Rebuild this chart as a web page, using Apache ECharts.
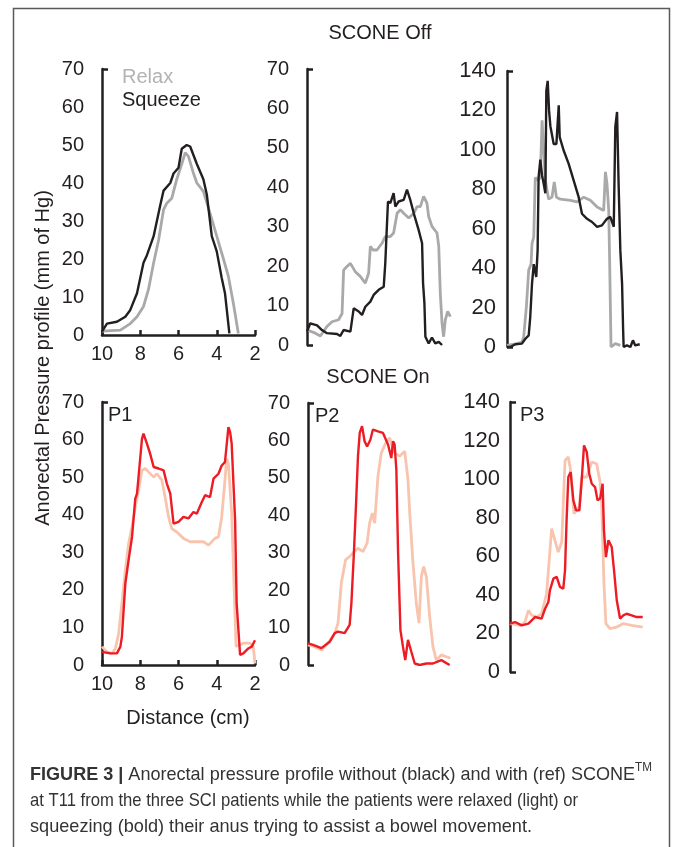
<!DOCTYPE html>
<html><head><meta charset="utf-8">
<script src="https://cdn.jsdelivr.net/npm/echarts@6/dist/echarts.min.js"></script>
<style>html,body{margin:0;padding:0;background:#fff;}#c{width:673px;height:847px;}</style>
</head><body><div id="c"></div>
<script>
// ---------- DATA (distance in cm, pressure in mm Hg) ----------
const xTickValues = [10, 8, 6, 4, 2];

// SCONE Off, patient 1
const offP1Relax = [[10,1],[9.04,1.3],[8.52,3],[8.17,4.8],[7.83,7.5],[7.57,12],[7.30,19],[7.04,25],[6.78,33],[6.61,34.7],[6.35,36],[6.09,41],[5.83,45],[5.65,48],[5.48,47],[5.22,42.6],[5.04,40],[4.70,37.8],[4.35,32],[4.0,26],[3.65,20],[3.39,15.4],[3.13,8.3],[2.87,0.4]];
const offP1Squeeze = [[10,0.9],[9.74,3],[9.22,3.5],[8.78,4.8],[8.52,6.6],[8.17,11],[7.83,19],[7.65,21],[7.30,26],[6.96,34],[6.78,38],[6.43,40],[6.26,42.5],[6.0,44],[5.83,49],[5.57,50],[5.39,49.6],[5.04,45],[4.70,41],[4.52,37],[4.26,26],[4.0,22],[3.74,15],[3.57,11],[3.34,0.4]];
// SCONE Off, patient 2
const offP2Relax = [[10,3.8],[9.57,3],[9.31,2.3],[8.97,4.7],[8.71,5.9],[8.37,6.4],[8.19,8],[8.11,19],[7.94,19.9],[7.76,20.7],[7.51,18.6],[7.25,17.4],[6.99,15.7],[6.82,18.2],[6.73,25],[6.59,24.1],[6.39,24.1],[6.13,25.8],[5.96,27.5],[5.70,27.5],[5.53,28.4],[5.35,33.4],[5.18,34.3],[5.01,33.4],[4.75,32.2],[4.49,33.4],[4.32,35.1],[4.15,35.1],[3.98,37.7],[3.81,36],[3.72,32.6],[3.55,30.1],[3.29,28.4],[3.20,25],[3.12,13.1],[3.03,5.5],[2.95,2.1],[2.86,6.4],[2.74,8.5],[2.60,7.2]];
const offP2Squeeze = [[10,3.4],[9.83,5.5],[9.48,5],[9.23,3.8],[8.97,3],[8.45,2.8],[8.28,2.3],[8.11,3.8],[7.76,3.4],[7.59,9.3],[7.33,8.5],[7.16,7.6],[6.99,9.7],[6.73,11],[6.56,12.7],[6.30,14],[6.04,14.8],[5.96,20.7],[5.87,30.9],[5.82,36.4],[5.70,36],[5.53,38.5],[5.44,35.1],[5.27,36.4],[5.01,36.8],[4.84,39.4],[4.67,36.8],[4.49,33.4],[4.24,29.2],[4.06,25.8],[4.01,15.7],[3.94,10.6],[3.89,2.1],[3.72,0.4],[3.55,1.9],[3.38,0.4],[3.20,0.8],[3.03,0]];
// SCONE Off, patient 3
const offP3Relax = [[10,0.8],[9.48,1.7],[9.23,2.5],[9.14,5],[9.0,20.3],[8.88,39],[8.76,42],[8.71,52.4],[8.62,55.8],[8.54,86],[8.42,84.5],[8.28,86],[8.19,115],[8.11,115.8],[8.02,84.5],[7.85,75],[7.68,76],[7.56,83.7],[7.45,76],[7.25,75],[6.73,74.4],[6.39,73.6],[6.04,76],[5.70,74.4],[5.35,71],[5.01,69.3],[4.92,88.8],[4.84,82.9],[4.75,69.3],[4.70,42.3],[4.63,0],[4.41,1.7],[4.15,0.8]];
const offP3Squeeze = [[10,0],[9.83,0],[9.57,1.4],[9.23,1.7],[9.05,4.2],[8.88,5.9],[8.80,15.2],[8.71,32],[8.62,42],[8.49,35.5],[8.42,49],[8.37,86],[8.28,95],[8.19,87],[8.11,83],[8.02,78],[7.97,130],[7.90,135],[7.83,120],[7.76,112],[7.59,103],[7.45,103],[7.33,122.6],[7.28,106.5],[7.08,99.8],[6.82,93],[6.56,84.5],[6.30,76],[6.13,67.6],[5.87,65],[5.61,63.4],[5.35,60.9],[5.10,61.7],[4.84,65],[4.67,66],[4.49,61],[4.41,111.6],[4.32,119.2],[4.24,82.9],[4.15,49],[4.06,32],[4.01,10],[3.98,0],[3.81,0.8],[3.63,0],[3.50,3.4],[3.38,0.8],[3.15,1.4]];
// SCONE On, patient 1
const onP1Relax = [[10,4.9],[9.74,3.5],[9.48,3.1],[9.30,4.4],[9.13,8.4],[8.96,16.4],[8.78,25.2],[8.61,32.3],[8.43,36.8],[8.26,42.1],[8.09,46.5],[7.91,51.8],[7.74,52.3],[7.57,51.4],[7.30,50],[7.13,50.9],[6.87,49.2],[6.70,44.7],[6.52,39.4],[6.35,36.3],[6.09,35.4],[5.74,33.7],[5.39,32.8],[5.04,32.8],[4.70,32.8],[4.43,31.9],[4.09,33.7],[3.91,34.1],[3.74,39.4],[3.57,49.2],[3.48,54.9],[3.39,53.6],[3.22,40.3],[3.10,21.7],[2.99,4.9],[2.61,5.8],[2.26,5.8],[2.09,4.9],[2.0,0.4]];
const onP1Squeeze = [[10,3.5],[9.57,3.1],[9.22,3.1],[9.04,4.9],[8.96,7.5],[8.87,14.6],[8.78,21.7],[8.61,27.9],[8.43,34.1],[8.26,44.3],[8.17,45.6],[8.09,50],[7.91,60.2],[7.83,61.6],[7.65,58.9],[7.48,56.2],[7.30,52.7],[7.04,52.3],[6.78,51.8],[6.61,48.3],[6.43,45.6],[6.26,37.6],[6.0,38.1],[5.74,39.4],[5.48,39],[5.22,40.7],[5.04,40.3],[4.78,43.4],[4.61,45.2],[4.35,44.7],[4.17,49.6],[3.91,50.9],[3.74,53.1],[3.57,54],[3.39,63.3],[3.30,62],[3.22,58.9],[3.13,58.5],[3.04,38.5],[2.96,16.4],[2.78,2.7],[2.61,3.1],[2.35,4.4],[2.17,4.9],[2.0,6.6]];
// SCONE On, patient 2
const onP2Relax = [[10,5.4],[9.66,4.9],[9.31,4],[8.97,5.8],[8.62,8.5],[8.45,11.2],[8.28,21.9],[8.06,28.1],[7.85,29],[7.68,29.9],[7.42,31.2],[7.16,30.3],[6.95,32.6],[6.82,37.9],[6.68,40.6],[6.56,37.9],[6.39,50.4],[6.22,56.6],[5.99,59.3],[5.79,60.7],[5.53,56.6],[5.27,55.8],[5.01,57.1],[4.84,49.5],[4.75,40.6],[4.58,27.2],[4.41,16.5],[4.27,11.2],[4.15,23.6],[4.03,26.3],[3.89,23.6],[3.72,12.9],[3.55,4.9],[3.38,1.3],[3.12,2.7],[2.86,2.2],[2.65,1.8]];
const onP2Squeeze = [[10,5.8],[9.74,5.4],[9.31,4.5],[8.88,6.2],[8.62,8.5],[8.45,8.9],[8.11,8.5],[7.85,10.7],[7.76,16.5],[7.64,29],[7.54,40.6],[7.42,55.8],[7.33,62],[7.21,63.8],[7.08,59.8],[6.95,58.4],[6.78,60.2],[6.65,62.9],[6.39,62.4],[6.13,62],[5.87,58.9],[5.70,55.3],[5.61,59.8],[5.53,58.9],[5.44,52.2],[5.35,29.9],[5.23,9.4],[5.10,4.9],[4.98,1.3],[4.84,6.7],[4.67,3.6],[4.49,0.4],[4.24,0],[3.89,0.4],[3.55,0.4],[3.12,1.3],[2.69,0]];
// SCONE On, patient 3
const onP3Relax = [[10,25.1],[9.48,24.2],[9.23,25.9],[9.05,32],[8.88,29.4],[8.62,28.5],[8.37,30.2],[8.11,40.6],[7.85,74.3],[7.68,68.3],[7.51,62.2],[7.33,67.4],[7.16,109.7],[6.99,111.5],[6.87,104.6],[6.70,82.1],[6.56,83.8],[6.42,85.6],[6.30,101.1],[6.04,101.1],[5.78,108.9],[5.53,108],[5.35,98.5],[5.27,87.3],[5.15,45.8],[5.05,25.1],[4.84,22.5],[4.49,23.3],[4.15,25.1],[3.72,24.2],[3.15,23.3]];
const onP3Squeeze = [[10,25.1],[9.74,25.9],[9.40,24.2],[9.05,25.1],[8.71,28.5],[8.37,27.7],[8.19,32.8],[8.02,36.3],[7.94,42.3],[7.76,48.4],[7.59,49.3],[7.42,44.1],[7.25,43.2],[7.16,52.7],[7.08,78.6],[6.99,101.1],[6.87,103.7],[6.73,89],[6.59,83.8],[6.42,83.8],[6.30,99.4],[6.18,117.5],[6.04,114.1],[5.91,102.8],[5.78,97.6],[5.61,95.9],[5.48,89],[5.35,89.9],[5.22,97.6],[5.15,73.5],[5.05,59.6],[4.92,68.3],[4.75,64.8],[4.63,52.7],[4.49,37.2],[4.32,27.7],[4.15,29.4],[3.98,30.2],[3.72,29.4],[3.46,28.5],[3.15,28.5]];

const panelTags = ['P1', 'P2', 'P3'];
const captionLines = [
  'Anorectal pressure profile without (black) and with (ref) SCONE',
  'at T11 from the three SCI patients while the patients were relaxed (light) or',
  'squeezing (bold) their anus trying to assist a bowel movement.'
];

// ---------- STYLE / LAYOUT ----------
const FONT = '"Liberation Sans", Arial, Helvetica, sans-serif';
const INK = '#231f20';
const C_OFF_RELAX = '#a9a9a9', C_OFF_SQ = '#231f20', C_ON_RELAX = '#f8c4ae', C_ON_SQ = '#ed1c24';

const panels = [
  {rect:[102,69,153,266], max:70, iv:10, showX:true,  relax:offP1Relax, sq:offP1Squeeze, rc:C_OFF_RELAX, sc:C_OFF_SQ, fs:20, mg:18, ticks:[70]},
  {rect:[307,69,155,276], max:70, iv:10, showX:false, relax:offP2Relax, sq:offP2Squeeze, rc:C_OFF_RELAX, sc:C_OFF_SQ, fs:20, mg:18, ticks:[0,70]},
  {rect:[507,71,155,276], max:140, iv:20, showX:false, relax:offP3Relax, sq:offP3Squeeze, rc:C_OFF_RELAX, sc:C_OFF_SQ, fs:22, mg:11, ticks:[0,140]},
  {rect:[102,402,153,263], max:70, iv:10, showX:true, relax:onP1Relax, sq:onP1Squeeze, rc:C_ON_RELAX, sc:C_ON_SQ, fs:20, mg:18, ticks:[70]},
  {rect:[308,403,155,262], max:70, iv:10, showX:false, relax:onP2Relax, sq:onP2Squeeze, rc:C_ON_RELAX, sc:C_ON_SQ, fs:20, mg:18, ticks:[0,70]},
  {rect:[510,402,155,270], max:140, iv:20, showX:false, relax:onP3Relax, sq:onP3Squeeze, rc:C_ON_RELAX, sc:C_ON_SQ, fs:22, mg:10, ticks:[0,140]}
];

const grids = [], xAxes = [], yAxes = [], series = [];
panels.forEach((p, i) => {
  grids.push({left:p.rect[0], top:p.rect[1], width:p.rect[2], height:p.rect[3], containLabel:false});
  xAxes.push({
    type:'value', gridIndex:i, min:2, max:10, interval:2, inverse:true, show:p.showX,
    axisLine:{show:true, onZero:false, lineStyle:{color:INK, width:2.5}},
    axisTick:{show:true, inside:true, length:5, lineStyle:{color:INK, width:2.5}},
    axisLabel:{show:true, margin:9, color:INK, fontSize:20, fontFamily:FONT, customValues:xTickValues},
    splitLine:{show:false}
  });
  yAxes.push({
    type:'value', gridIndex:i, min:0, max:p.max, interval:p.iv,
    axisLine:{show:true, lineStyle:{color:INK, width:2.5}},
    axisTick:{show:true, inside:true, length:6, lineStyle:{color:INK, width:2.5}, customValues:p.ticks},
    axisLabel:{show:true, margin:p.mg, color:INK, fontSize:p.fs, fontFamily:FONT},
    splitLine:{show:false}
  });
  series.push({type:'line', name:'Relax', xAxisIndex:i, yAxisIndex:i, data:p.relax, showSymbol:false, symbol:'none',
    lineStyle:{color:p.rc, width:2.8}, z:2, animation:false});
  series.push({type:'line', name:'Squeeze', xAxisIndex:i, yAxisIndex:i, data:p.sq, showSymbol:false, symbol:'none',
    lineStyle:{color:p.sc, width:2.4}, z:3, animation:false});
});

// caption scaling to match the condensed caption face
const cv = document.createElement('canvas').getContext('2d');
function tw(t, f){ cv.font = f; return cv.measureText(t).width; }
const CAP_FS = 18.5;
const capFont = CAP_FS + 'px ' + FONT;
const capBold = 'bold ' + CAP_FS + 'px ' + FONT;
const line1W = tw('FIGURE 3 | ', capBold) + tw(captionLines[0], capFont) + tw('TM', '12px ' + FONT);
const capRights = [652, 578, 532];
const capScales = [
  (capRights[0]-30)/line1W,
  (capRights[1]-30)/tw(captionLines[1], capFont),
  (capRights[2]-30)/tw(captionLines[2], capFont)
];
const capYs = [773, 801, 827];

function txt(text, x, y, opts){
  return Object.assign({type:'text', x:x, y:y, silent:true,
    style:Object.assign({text:text, fill:INK, fontSize:20, fontFamily:FONT, align:'center', verticalAlign:'middle'}, opts||{})});
}

const graphics = [
  {type:'polyline', silent:true, shape:{points:[[13.5,847],[13.5,8.5],[669.5,8.5],[669.5,847]]},
   style:{stroke:'#5a5a5a', lineWidth:1.5, fill:null}},
  txt('SCONE Off', 380, 33),
  txt('SCONE On', 378, 377),
  txt('Relax', 122, 77, {align:'left', fill:'#b3b3b3'}),
  txt('Squeeze', 122, 100, {align:'left'}),
  txt(panelTags[0], 108, 415, {align:'left'}),
  txt(panelTags[1], 315, 416, {align:'left'}),
  txt(panelTags[2], 520, 415, {align:'left'}),
  txt('Distance (cm)', 188, 718),
  Object.assign(txt('Anorectal Pressure profile (mm of Hg)', 43, 358), {rotation:Math.PI/2}),
  {type:'text', x:30, y:capYs[0], scaleX:capScales[0], silent:true,
   style:{text:'{b|FIGURE 3 | }{n|' + captionLines[0] + '}{s|TM}', align:'left', verticalAlign:'middle', fill:'#333',
     rich:{b:{fontWeight:'bold', fontSize:CAP_FS, fontFamily:FONT, fill:'#333', lineHeight:22, verticalAlign:'bottom'},
           n:{fontSize:CAP_FS, fontFamily:FONT, fill:'#333', lineHeight:22, verticalAlign:'bottom'},
           s:{fontSize:12, fontFamily:FONT, fill:'#333', lineHeight:22, verticalAlign:'top'}}}},
  {type:'text', x:30, y:capYs[1], scaleX:capScales[1], silent:true,
   style:{text:captionLines[1], align:'left', verticalAlign:'middle', fill:'#333', fontSize:CAP_FS, fontFamily:FONT}},
  {type:'text', x:30, y:capYs[2], scaleX:capScales[2], silent:true,
   style:{text:captionLines[2], align:'left', verticalAlign:'middle', fill:'#333', fontSize:CAP_FS, fontFamily:FONT}}
];

const chart = echarts.init(document.getElementById('c'), null, {renderer:'canvas'});
chart.setOption({
  animation:false,
  backgroundColor:'#ffffff',
  grid:grids, xAxis:xAxes, yAxis:yAxes, series:series,
  graphic:graphics
});
</script></body></html>
